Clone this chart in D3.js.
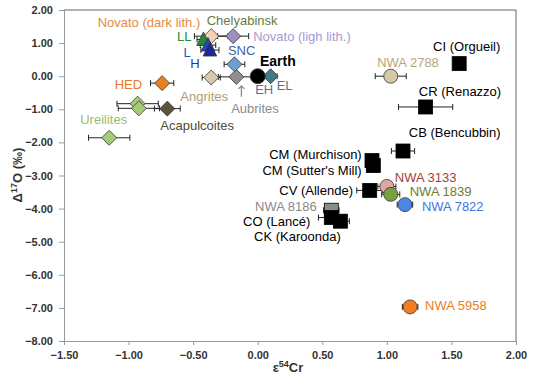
<!DOCTYPE html>
<html><head><meta charset="utf-8">
<script src="https://cdn.jsdelivr.net/npm/d3@7"></script>
<style>body{margin:0;background:#fff}svg{display:block;font-family:"Liberation Sans",Arial,sans-serif}</style>
</head><body><svg id="c" width="533" height="380"></svg>
<script>
// ---- data ----
const names = ["Ureilites a","Ureilites b","Ureilites","Acapulcoites","HED","Angrites","Aubrites","SNC","EL","Earth",
  "Novato (ligh lith.)","Chelyabinsk","LL","L","H",
  "CI (Orgueil)","NWA 2788","CR (Renazzo)","CB (Bencubbin)","CM (Murchison)","CM (Sutter's Mill)","CV (Allende)",
  "NWA 3133","NWA 1839","NWA 7822","NWA 8186","CO (Lancé)","CK (Karoonda)","NWA 5958"];
const eCr = [-0.93,-0.92,-1.15,-0.70,-0.74,-0.36,-0.165,-0.18,0.10,0.00,
  -0.19,-0.36,-0.42,-0.385,-0.37,
  1.56,1.03,1.30,1.125,0.885,0.895,0.867,
  1.00,1.03,1.14,0.57,0.57,0.64,1.18];
const d17O = [-0.83,-0.97,-1.86,-0.98,-0.21,-0.04,-0.02,0.36,0.00,0.00,
  1.21,1.21,1.11,0.94,0.79,
  0.38,0.00,-0.93,-2.26,-2.55,-2.70,-3.45,
  -3.33,-3.57,-3.88,-4.05,-4.27,-4.38,-6.97];
const eCrErr = [0.16,0.16,0.16,0.10,0.09,0.07,0.14,0.08,0.05,0,
  0.12,0.13,0.05,0.06,0.07,
  0.04,0.12,0.21,0.09,0.05,0.05,0.10,
  0.07,0.07,0.06,0.06,0.10,0.07,0.06];
const xTicks = [-1.5,-1,-0.5,0,0.5,1,1.5,2];
const yTicks = [2,1,0,-1,-2,-3,-4,-5,-6,-7,-8];

// ---- styles ----
const style = {
  "Ureilites a":["d","#a7c97a"],"Ureilites b":["d","#a7c97a"],"Ureilites":["d","#a7c97a"],
  "Acapulcoites":["d","#5a5438"],"HED":["d","#ea7f1f"],"Angrites":["d","#d5cbac"],"Aubrites":["d","#8e8e8e"],
  "SNC":["d","#6e9fd3"],"EL":["d","#3d7c86"],"Earth":["c","#000000"],
  "Novato (ligh lith.)":["d","#9d8fc0"],"Chelyabinsk":["d","#f6d2b4"],
  "LL":["t","#218c34"],"L":["t","#2347c8"],"H":["t","#1b2a9a"],
  "CI (Orgueil)":["s","#000"],"NWA 2788":["c","#d5caa5"],"CR (Renazzo)":["s","#000"],"CB (Bencubbin)":["s","#000"],
  "CM (Murchison)":["s","#000"],"CM (Sutter's Mill)":["s","#000"],"CV (Allende)":["s","#000"],
  "NWA 3133":["c","#dfa6a2"],"NWA 1839":["c","#78a03e"],"NWA 7822":["c","#4f86e6"],
  "NWA 8186":["s","#8c8c8c"],"CO (Lancé)":["s","#000"],"CK (Karoonda)":["s","#000"],"NWA 5958":["c","#f27f1e"]
};
// label: [text, point, dx, dy, anchor, color, bold]
const labels = [
  ["Ureilites","Ureilites",-29,-18,"start","#9dbb6d"],
  ["Acapulcoites","Acapulcoites",-7,16.5,"start","#4d4a33"],
  ["HED","HED",-20,1,"end","#e5782a"],
  ["Angrites","Angrites",-7,18.5,"middle","#a99e72"],
  ["Aubrites","Aubrites",18.6,31.4,"middle","#8c8c8c"],
  ["EH","Earth",6.5,13,"middle","#7463a6"],
  ["EL","EL",6,9,"start","#3c7f8c"],
  ["Earth","Earth",2.3,-15.5,"start","#000",true],
  ["SNC","SNC",-6.5,-14.3,"start","#3e5fa5"],
  ["Novato (ligh lith.)","Novato (ligh lith.)",20,0,"start","#a99ad2"],
  ["Chelyabinsk","Chelyabinsk",-4.5,-15.4,"start","#6b7a3d"],
  ["Novato (dark lith.)","Chelyabinsk",-11,-14,"end","#e58a44"],
  ["LL","LL",-12,-3.5,"end","#238c2c"],
  ["L","L",-21,7,"middle","#2a4ec4"],
  ["H","H",-15,13.5,"middle","#2235a8"],
  ["CI (Orgueil)","CI (Orgueil)",7.5,-17.6,"middle","#000"],
  ["NWA 2788","NWA 2788",17.3,-13.5,"middle","#b3a67a"],
  ["CR (Renazzo)","CR (Renazzo)",34.4,-15.3,"middle","#000"],
  ["CB (Bencubbin)","CB (Bencubbin)",51.7,-18.3,"middle","#000"],
  ["CM (Murchison)","CM (Murchison)",-10.3,-6.6,"end","#000"],
  ["CM (Sutter's Mill)","CM (Sutter's Mill)",-11.6,5,"end","#000"],
  ["CV (Allende)","CV (Allende)",-16.7,0,"end","#000"],
  ["NWA 3133","NWA 3133",8,-9,"start","#a43d3d"],
  ["NWA 1839","NWA 1839",19,-3,"start","#6c7d2c"],
  ["NWA 7822","NWA 7822",17,1.4,"start","#3f74e0"],
  ["NWA 8186","NWA 8186",-14.6,-4.3,"end","#8a8a8a"],
  ["CO (Lancé)","CO (Lancé)",-21,4,"end","#000"],
  ["CK (Karoonda)","CK (Karoonda)",-43,15.5,"middle","#000"],
  ["NWA 5958","NWA 5958",15,-1,"start","#ef7d22"]
];

const svg = d3.select("#c");
const L = 64, R = 516, T = 10, B = 341;
const x = d3.scaleLinear().domain([-1.5,2]).range([L,R]);
const y = d3.scaleLinear().domain([-8,2]).range([B,T]);

// axes
const fmt = d3.format(".2f");
const gx = svg.append("g").attr("transform",`translate(0,${B})`)
  .call(d3.axisBottom(x).tickValues(xTicks).tickFormat(fmt).tickSize(4).tickPadding(6));
const gy = svg.append("g").attr("transform",`translate(${L},0)`)
  .call(d3.axisLeft(y).tickValues(yTicks).tickFormat(fmt).tickSize(5).tickPadding(6));
[gx,gy].forEach(g=>{
  g.select(".domain").attr("stroke","#9a9a9a");
  g.selectAll(".tick line").attr("stroke","#9a9a9a");
  g.selectAll(".tick text").attr("font-size",11).attr("font-weight","bold").attr("fill","#333")
   .attr("font-family","'Liberation Sans',Arial,sans-serif");
});
// frame top/right
svg.append("path").attr("d",`M${L},${T}H${R}V${B}`).attr("fill","none").attr("stroke","#666");

// axis titles
const xt = svg.append("text").attr("x",(L+R)/2-2).attr("y",372).attr("text-anchor","middle")
  .attr("font-size",13).attr("font-weight","bold").attr("fill","#333");
xt.append("tspan").text("ε");
xt.append("tspan").attr("font-size",9).attr("dy",-5).text("54");
xt.append("tspan").attr("dy",5).text("Cr");
const yt = svg.append("text").attr("transform","translate(22,175) rotate(-90)").attr("text-anchor","middle")
  .attr("font-size",13).attr("font-weight","bold").attr("fill","#333");
yt.append("tspan").text("Δ");
yt.append("tspan").attr("font-size",9).attr("dy",-5).text("17");
yt.append("tspan").attr("dy",5).text("O (‰)");

const pts = names.map((n,i)=>({n, cx:x(eCr[i]), cy:y(d17O[i]), e:eCrErr[i], sh:style[n][0], fill:style[n][1]}));
const byName = {}; pts.forEach(p=>byName[p.n]=p);

// error bars
const eg = svg.append("g").attr("stroke","#222").attr("stroke-width",1);
pts.filter(p=>p.e>0).forEach(p=>{
  const i0 = names.indexOf(p.n);
  const x0 = x(eCr[i0]-eCrErr[i0]), x1 = x(eCr[i0]+eCrErr[i0]);
  eg.append("path").attr("d",`M${x0},${p.cy}H${x1}M${x0},${p.cy-3}V${p.cy+3}M${x1},${p.cy-3}V${p.cy+3}`);
});

// markers
const mg = svg.append("g");
pts.forEach(p=>{
  let el;
  if(p.sh==="d"){ const r=7.5; el=mg.append("path").attr("d",`M${p.cx},${p.cy-r}L${p.cx+r},${p.cy}L${p.cx},${p.cy+r}L${p.cx-r},${p.cy}Z`); }
  else if(p.sh==="c"){ el=mg.append("circle").attr("cx",p.cx).attr("cy",p.cy).attr("r",p.n==="Earth"?7.5:7); }
  else if(p.sh==="s"){ const h=7; el=mg.append("rect").attr("x",p.cx-h).attr("y",p.cy-h).attr("width",2*h).attr("height",2*h); }
  else { const h=7.5; el=mg.append("path").attr("d",`M${p.cx},${p.cy-h}L${p.cx+h*0.9},${p.cy+h*0.8}L${p.cx-h*0.9},${p.cy+h*0.8}Z`); }
  el.attr("fill",p.fill).attr("stroke",p.sh==="s"?"#000":"#333").attr("stroke-width",0.8);
});

// arrow for Aubrites
const au = byName["Aubrites"];
svg.append("path").attr("d",`M${au.cx+5},${au.cy+20}V${au.cy+9}M${au.cx+2},${au.cy+12}L${au.cx+5},${au.cy+9}L${au.cx+8},${au.cy+12}`)
  .attr("stroke","#8c8c8c").attr("stroke-width",1.3).attr("fill","none");

// labels
const lg = svg.append("g").attr("font-size",13);
labels.forEach(([t,pn,dx,dy,anc,col,bold])=>{
  const p = byName[pn];
  lg.append("text").attr("x",p.cx+dx).attr("y",p.cy+dy).attr("dy","0.35em").attr("text-anchor",anc)
    .attr("fill",col).attr("font-weight",bold?"bold":"normal").attr("font-size",bold?14:13).text(t);
});
</script></body></html>
